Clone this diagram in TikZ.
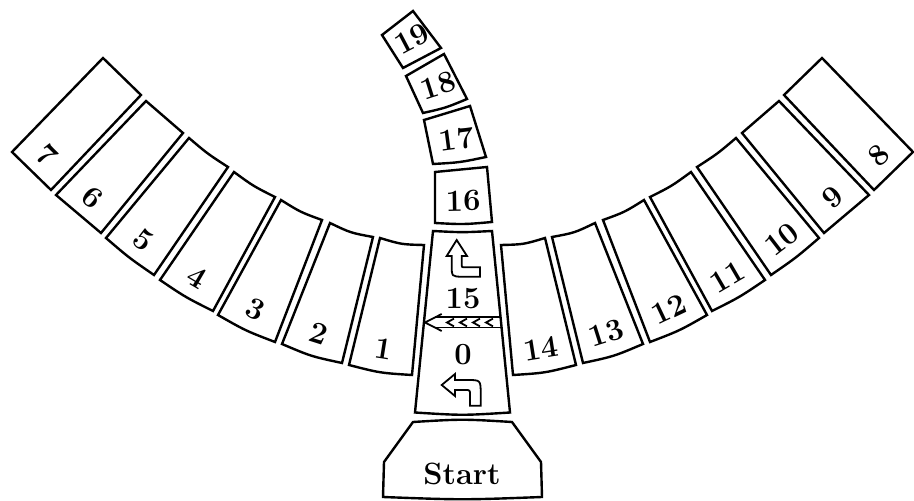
\documentclass[tikz,border=0pt]{standalone}
\usepackage{tikz}
\usetikzlibrary{calc}
\definecolor{ink}{HTML}{000000}
\newcommand{\Cell}[8]{%
  \coordinate (#1a) at (#2);
  \coordinate (#1b) at (#3);
  \coordinate (#1c) at (#4);
  \coordinate (#1d) at (#5);
  \draw[cell] (#1a) .. controls ($(#1a)!.5!(#1b)!#6!-90:(#1b)$) .. (#1b)
    -- (#1c) .. controls ($(#1c)!.5!(#1d)!#7!90:(#1d)$) .. (#1d) -- cycle;
  \path ($(#1d)!10.75pt!90:(#1c)$) -- ($(#1c)!10.75pt!-90:(#1d)$) node[num] (#1) {#8};%
}
\begin{document}
\begin{tikzpicture}[x=0.5pt, y=-0.5pt,
  cell/.style={draw=ink, line width=1.2pt},
  txt/.style={inner sep=0pt, font=\fontsize{15.4}{18}\selectfont\bfseries, text=ink},
  num/.style={txt, midway, sloped},
  glyph/.style={draw=ink, line width=0.9pt}]
  \useasboundingbox (0,0) rectangle (914,501);
  \Cell{c1}{380,238}{424,245}{412,375}{349,365}{1.5pt}{1.5pt}{1}
  \Cell{c2}{330,223}{373,237}{342,363}{282,344}{1.5pt}{1.5pt}{2}
  \Cell{c3}{281,200}{322,220}{275,342}{218,315}{1.2pt}{1.2pt}{3}
  \Cell{c4}{234,172}{275,197}{213,311}{160,280}{1pt}{1pt}{4}
  \Cell{c5}{189,138}{228,167}{154,275}{106,238}{0.8pt}{0.8pt}{5}
  \Cell{c6}{146,101}{183,133}{101,233}{56,195}{0.5pt}{0.5pt}{6}
  \Cell{c7}{103,58}{141,95}{51,190}{12,152}{0pt}{0pt}{7}
  \Cell{c8}{784,95}{822,58}{913,152}{874,190}{0pt}{0pt}{8}
  \Cell{c9}{742,133}{779,101}{869,195}{824,233}{0.5pt}{0.5pt}{9}
  \Cell{c10}{697,167}{736,138}{819,238}{771,275}{0.8pt}{0.8pt}{10}
  \Cell{c11}{650,197}{691,172}{765,280}{712,311}{1pt}{1pt}{11}
  \Cell{c12}{603,220}{644,200}{707,315}{650,342}{1.2pt}{1.2pt}{12}
  \Cell{c13}{552,237}{595,223}{643,344}{583,363}{1.5pt}{1.5pt}{13}
  \Cell{c14}{501,245}{545,238}{576,365}{513,375}{1.5pt}{1.5pt}{14}
  \Cell{c16}{435,172}{487,167}{492,222}{435,223}{0.5pt}{1pt}{16}
  \Cell{c17}{424,120}{470,106}{486,157}{433,164}{0.5pt}{1pt}{17}
  \Cell{c18}{406,76}{444,54}{467,99}{423,113}{0.5pt}{1pt}{18}
  \Cell{c19}{382,35}{413,11}{441,48}{403,68}{0.5pt}{0.5pt}{19}
  \draw[cell] (433,231) .. controls (462.5,232.5) .. (492,231) -- (510,412.5)
    .. controls (462.5,415.5) .. (415,412.5) -- cycle;
  \draw[cell] (413,422) .. controls (462.5,419) .. (512,422) -- (541,462) -- (542,497)
    .. controls (462.5,500) .. (383,497) -- (384,462) -- cycle;
  \node[txt] (n15) at (463,299) {15};
  \node[txt] (n0) at (463,355) {0};
  \node[txt] (start) at (462,474) {Start};
  \draw[glyph] (456.7,240) -- (467,256) -- (461.7,256) -- (461.7,264)
    .. controls (461.7,267.3) .. (465,267.3) -- (480,267.3) -- (480,276.7) -- (463,276.7)
    .. controls (451.7,276.7) .. (451.7,265) -- (451.7,256) -- (446.7,256) -- cycle;
  \draw[glyph] (441.7,385) -- (455,374) -- (455,380) -- (467,380)
    .. controls (480.7,380) .. (480.7,394) -- (480.7,405.7) -- (470,405.7) -- (470,395)
    .. controls (470,390) .. (465,390) -- (455,390) -- (455,396) -- cycle;
  \draw[glyph] (441.7,314) -- (425,322.5) -- (441.7,331);
  \draw[glyph] (435.2,317.4) -- (500.5,317.4);
  \draw[glyph] (435.2,327.6) -- (501.5,327.6);
  \foreach \x in {447,460,473,486}
    \draw[glyph] (\x+7,318.6) -- (\x,322.5) -- (\x+7,326.4);
\end{tikzpicture}
\end{document}
